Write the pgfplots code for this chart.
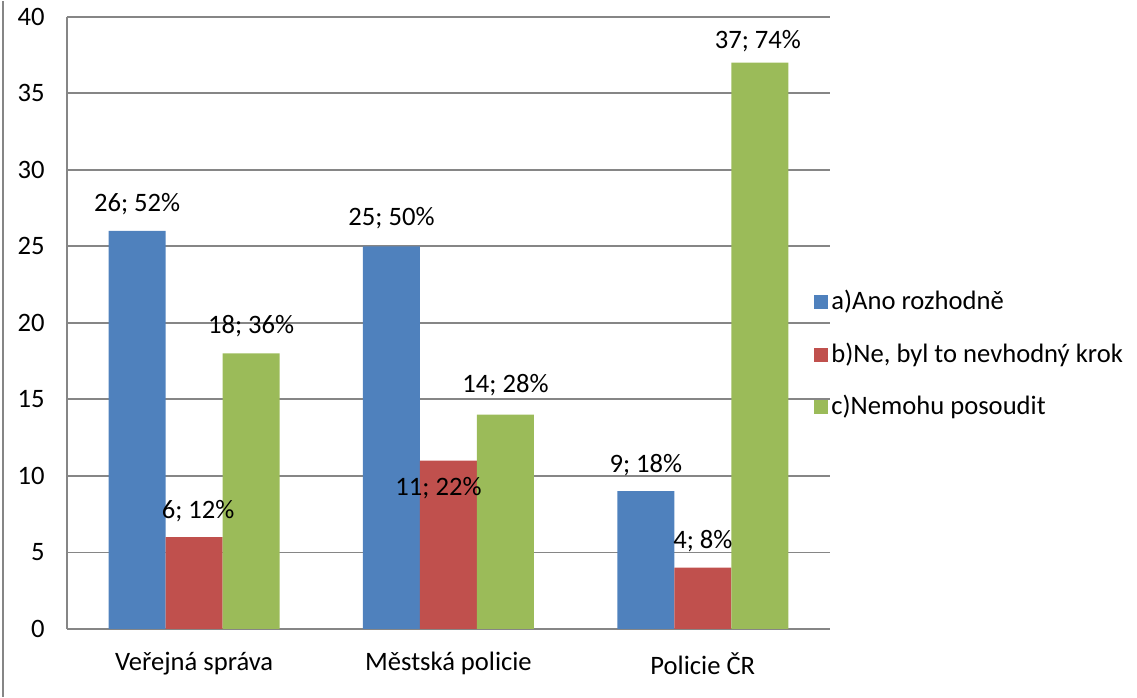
\documentclass[border=0pt]{standalone}
\usepackage{fontspec}
\setmainfont{Carlito}
\usepackage{pgfplots}
\usepackage{pgfplotstable}
\pgfplotsset{compat=1.18}

\definecolor{cblue}{HTML}{4F81BD}
\definecolor{cred}{HTML}{C0504D}
\definecolor{cgreen}{HTML}{9BBB59}
\definecolor{cgrid}{HTML}{868686}

% x, value, label, shift of the label
\pgfplotstableread[col sep=comma]{
x,y,lab,dx,dy
0,26,{26; 52\%},0,13.5
1,25,{25; 50\%},0,14
2,9,{9; 18\%},0,13
}\ano
\pgfplotstableread[col sep=comma]{
x,y,lab,dx,dy
0,6,{6; 12\%},2,13
1,11,{11; 22\%},-5,-14
2,4,{4; 8\%},0,13
}\ne
\pgfplotstableread[col sep=comma]{
x,y,lab,dx,dy
0,18,{18; 36\%},0,13.5
1,14,{14; 28\%},0,14.5
2,37,{37; 74\%},-1,11
}\nemohu

\pgfplotsset{
  lbl/.style={
    point meta=explicit symbolic,
    visualization depends on={\thisrow{dx} \as \dx},
    visualization depends on={\thisrow{dy} \as \dy},
    nodes near coords,
    nodes near coords style={anchor=center, inner sep=0pt,
        xshift=\dx pt, yshift=\dy pt, black,
        font=\fontsize{13.3}{16}\selectfont},
  },
}

\begin{document}
\fontsize{13.3}{16}\selectfont
\begin{tikzpicture}
\path (0,0) rectangle (568.5pt,348pt);
\draw[cgrid, line width=0.8pt] (1.5pt,0) -- (1.5pt,348pt);
\begin{axis}[
    at={(33.5pt,34pt)}, anchor=south west,
    scale only axis,
    width=381.5pt, height=306pt,
    xmin=-0.5, xmax=2.5,
    ymin=0, ymax=40,
    ytick={0,5,...,40},
    xtick={0,1,2},
    xticklabels={Veřejná správa, Městská policie, Policie ČR},
    axis x line=bottom, axis y line=left,
    axis line style={-, cgrid, line width=0.8pt},
    major tick length=0pt,
    ymajorgrids=true,
    grid style={cgrid, line width=0.8pt},
    /pgf/number format/assume math mode=true,
    tick label style={font=\fontsize{13.3}{16}\selectfont},
    yticklabel style={anchor=east, inner sep=0pt, xshift=-11pt},
    xticklabel style={anchor=center, inner sep=0pt, yshift=-17.5pt},
    ybar=0pt, bar width=28.5pt,
    clip=false,
    legend image code/.code={\fill[#1] (0pt,-3.5pt) rectangle (7pt,3.5pt);},
    legend style={draw=none, fill=none, at={(1,0.448)}, anchor=west,
        xshift=-8pt, inner sep=0pt, row sep=11.5pt,
        font=\fontsize{13.3}{16}\selectfont,
        nodes={inner sep=1.5pt}},
    legend cell align=left,
]
\addplot[fill=cblue, draw=none, lbl] table[x=x, y=y, meta=lab] {\ano};
\addplot[fill=cred, draw=none, lbl] table[x=x, y=y, meta=lab] {\ne};
\addplot[fill=cgreen, draw=none, lbl] table[x=x, y=y, meta=lab] {\nemohu};
\legend{a)Ano rozhodně, {b)Ne, byl to nevhodný krok}, c)Nemohu posoudit}
\end{axis}
\end{tikzpicture}
\end{document}
